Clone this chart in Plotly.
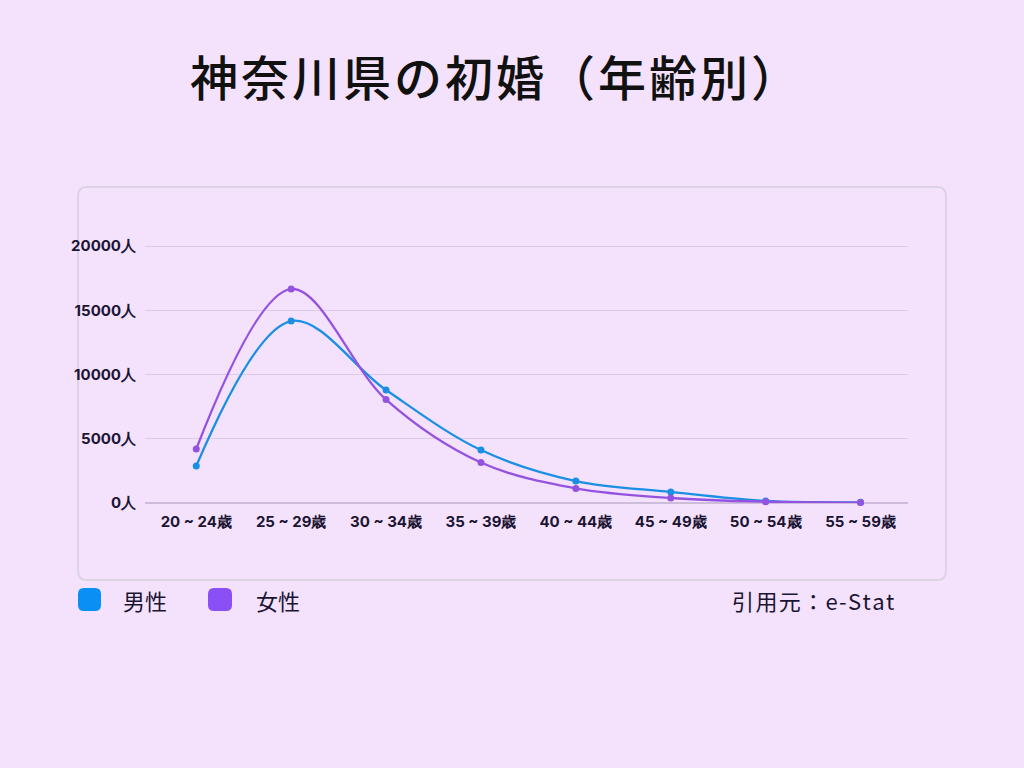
import plotly.graph_objects as go

categories = ["20 ~ 24歳", "25 ~ 29歳", "30 ~ 34歳", "35 ~ 39歳", "40 ~ 44歳", "45 ~ 49歳", "50 ~ 54歳", "55 ~ 59歳"]
male = [2880, 14160, 8790, 4120, 1710, 860, 160, 50]
female = [4200, 16650, 8050, 3150, 1130, 390, 100, 30]
y_ticks = [0, 5000, 10000, 15000, 20000]
y_tick_labels = [f"{v}人" for v in y_ticks]
title_text = "神奈川県の初婚（年齢別）"
source_text = "引用元：e-Stat"

W, H = 1024, 768
L, R, T, B = 145, 908, 236, 503
Y0_PX, Y20K_PX = 503, 246
YMAX = 20000 * (B - T) / (Y0_PX - Y20K_PX)
BG = "#f4e2fc"
DARK = "#1b1433"
BLUE = "#1a8fe3"
PURPLE = "#9353e0"
HAIR = "\u200a"

def px(x):
    return (x - L) / (R - L)

def py(y):
    return (B - y) / (B - T)

def rounded(x0, y0, x1, y1, r):
    return (f"M {px(x0 + r)},{py(y0)} L {px(x1 - r)},{py(y0)} "
            f"Q {px(x1)},{py(y0)} {px(x1)},{py(y0 + r)} "
            f"L {px(x1)},{py(y1 - r)} Q {px(x1)},{py(y1)} {px(x1 - r)},{py(y1)} "
            f"L {px(x0 + r)},{py(y1)} Q {px(x0)},{py(y1)} {px(x0)},{py(y1 - r)} "
            f"L {px(x0)},{py(y0 + r)} Q {px(x0)},{py(y0)} {px(x0 + r)},{py(y0)} Z")

fig = go.Figure()
fig.add_trace(go.Scatter(x=categories, y=male, mode="lines+markers", name="男性",
                         line=dict(color=BLUE, width=2.3, shape="spline", smoothing=1.0),
                         marker=dict(size=7, color=BLUE), cliponaxis=False))
fig.add_trace(go.Scatter(x=categories, y=female, mode="lines+markers", name="女性",
                         line=dict(color=PURPLE, width=2.3, shape="spline", smoothing=1.0),
                         marker=dict(size=7, color=PURPLE), cliponaxis=False))

shapes = [
    dict(type="path", xref="paper", yref="paper", path=rounded(78, 187, 946, 580, 9),
         line=dict(color="#dcd2e4", width=2), fillcolor="rgba(0,0,0,0)", layer="below"),
    dict(type="path", xref="paper", yref="paper", path=rounded(78, 588, 101, 611, 6),
         line=dict(width=0), fillcolor="#0a8ff5"),
    dict(type="path", xref="paper", yref="paper", path=rounded(208, 588, 232, 611, 6),
         line=dict(width=0), fillcolor="#8a4ff5"),
]

annotations = [
    dict(text=HAIR.join(title_text), xref="paper", yref="paper", x=px(494), y=py(75),
         showarrow=False, xanchor="center", yanchor="middle",
         font=dict(family="Noto Sans CJK JP", size=48, color="#111111", weight=500)),
    dict(text="男性", xref="paper", yref="paper", x=px(121), y=py(600), showarrow=False,
         xanchor="left", yanchor="middle", font=dict(family="Noto Sans CJK JP", size=22, color=DARK)),
    dict(text="女性", xref="paper", yref="paper", x=px(254), y=py(600), showarrow=False,
         xanchor="left", yanchor="middle", font=dict(family="Noto Sans CJK JP", size=22, color=DARK)),
    dict(text=HAIR.join(source_text), xref="paper", yref="paper", x=px(896), y=py(600), showarrow=False,
         xanchor="right", yanchor="middle", font=dict(family="Noto Sans CJK JP", size=22, color=DARK)),
]

fig.update_layout(
    width=W, height=H,
    margin=dict(l=L, r=W - R, t=T, b=H - B, pad=0),
    paper_bgcolor=BG, plot_bgcolor=BG,
    showlegend=False,
    shapes=shapes, annotations=annotations,
    font=dict(family="Inter", color=DARK),
)
fig.update_xaxes(range=[-0.54, 7.5], showgrid=False, zeroline=False, showline=False,
                 ticks="", tickfont=dict(family="Inter", size=15, color=DARK, weight="bold"),
                 ticklabelstandoff=8)
fig.update_yaxes(range=[0, YMAX], tickvals=y_ticks, ticktext=y_tick_labels,
                 showgrid=True, gridcolor="#dccbe8", gridwidth=1,
                 zeroline=True, zerolinecolor="#cdbcdc", zerolinewidth=1.5, showline=False,
                 ticks="", tickfont=dict(family="Inter", size=15, color=DARK, weight="bold"),
                 ticklabelstandoff=8)

fig.write_html("out.html", config={"displayModeBar": False},
               post_script="document.body.style.margin='0';document.body.style.background='%s';" % BG)
